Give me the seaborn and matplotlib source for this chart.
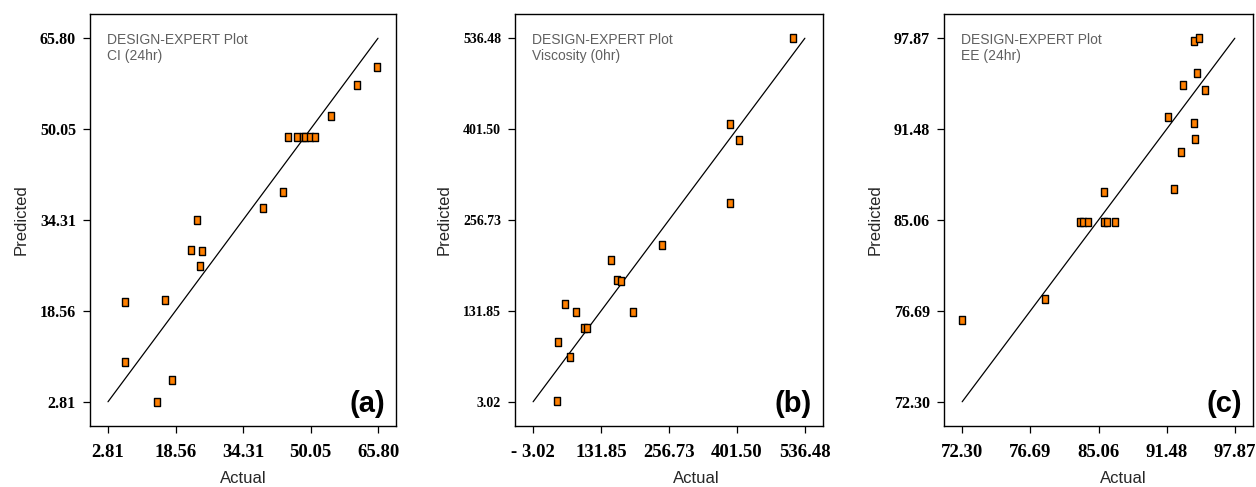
import numpy as np
import pandas as pd
import matplotlib
matplotlib.use("Agg")
import matplotlib.pyplot as plt
import seaborn as sns

# (a) CI (24hr)
ci_actual = [6.84, 6.84, 14.14, 16.0, 17.63, 22.28, 23.6, 24.22, 24.84, 38.88, 43.62,
             44.86, 46.8, 48.35, 48.81, 49.9, 51.14, 54.87, 60.92, 65.65]
ci_pred = [20.01, 9.64, 2.81, 20.41, 6.52, 29.1, 34.25, 26.32, 28.87, 36.34, 39.12,
           48.61, 48.61, 48.61, 48.61, 48.61, 48.61, 52.38, 57.7, 60.89]
ci_range = [2.81, 65.80]
ci_xticks = ["2.81", "18.56", "34.31", "50.05", "65.80"]
ci_yticks = ["2.81", "18.56", "34.31", "50.05", "65.80"]

# (b) Viscosity (0hr)
visc_actual = [49.86, 51.16, 75.23, 65.47, 87.59, 103.2, 108.4, 155.9, 167.6, 175.4,
               198.8, 256.7, 389.4, 389.4, 406.3, 512.4]
visc_pred = [3.5, 91.36, 69.03, 146.21, 134.56, 111.26, 111.26, 211.7, 182.1, 180.7,
             134.56, 233.1, 294.7, 410.7, 387.5, 537.5]
visc_range = [3.02, 536.48]
visc_xticks = ["- 3.02", "131.85", "256.73", "401.50", "536.48"]
visc_yticks = ["3.02", "131.85", "256.73", "401.50", "536.48"]

# (c) EE (24hr)
ee_actual = [72.24, 80.04, 83.33, 83.67, 84.1, 85.6, 85.57, 85.91, 86.59, 92.18, 92.8,
             91.59, 93.02, 94.01, 94.11, 94.29, 95.1, 94.08, 94.51]
ee_pred = [78.07, 79.53, 84.91, 84.91, 84.91, 87.07, 84.91, 84.91, 84.91, 87.3, 89.85,
           92.35, 94.6, 91.89, 90.77, 95.41, 94.25, 97.66, 97.91]
ee_range = [72.30, 97.87]
ee_xticks = ["72.30", "76.69", "85.06", "91.48", "97.87"]
ee_yticks = ["72.30", "76.69", "85.06", "91.48", "97.87"]

panels = [
    ("CI (24hr)", "(a)", ci_actual, ci_pred, ci_range, ci_xticks, ci_yticks),
    ("Viscosity (0hr)", "(b)", visc_actual, visc_pred, visc_range, visc_xticks, visc_yticks),
    ("EE (24hr)", "(c)", ee_actual, ee_pred, ee_range, ee_xticks, ee_yticks),
]

sns.set_style("ticks")
plt.rcParams["font.family"] = ["Liberation Sans", "DejaVu Sans"]

# slightly tall rectangle marker like Design-Expert
rect = [(-0.8, -1), (0.8, -1), (0.8, 1), (-0.8, 1), (-0.8, -1)]

fig = plt.figure(figsize=(12.56, 4.87), dpi=100)
boxes = [(90, 306), (515, 308), (944, 309)]
label_x = [0.5, 0.59, 0.58]
ytick_size = [11.5, 10, 11.5]

for i, (name, tag, act, pred, rng, xt, yt) in enumerate(panels):
    left, width = boxes[i]
    ax = fig.add_axes([left / 1256, 61 / 487, width / 1256, 412 / 487])
    df = pd.DataFrame({"Actual": act, "Predicted": pred})
    ax.plot(rng, rng, color="black", lw=0.9, zorder=1)
    sns.scatterplot(data=df, x="Actual", y="Predicted", ax=ax, marker=rect, s=32,
                    color="#ff8000", edgecolor="black", linewidth=1.0, zorder=3)
    pad = (rng[1] - rng[0]) / 15
    ax.set_xlim(rng[0] - pad, rng[1] + pad)
    ax.set_ylim(rng[0] - pad, rng[1] + pad)
    ticks = np.linspace(rng[0], rng[1], 5)
    ax.set_xticks(ticks)
    ax.set_xticklabels(xt, family="Liberation Serif", fontweight="bold", fontsize=13.5)
    ax.set_yticks(ticks)
    ax.set_yticklabels(yt, family="Liberation Serif", fontweight="bold", fontsize=ytick_size[i])
    ax.tick_params(direction="out", length=5, width=0.9, colors="black", pad=5)
    ax.tick_params(axis="x", pad=8)
    for sp in ax.spines.values():
        sp.set_visible(True)
        sp.set_color("black")
        sp.set_linewidth(1.0)
    ax.set_xlabel("Actual", fontsize=12)
    ax.set_ylabel("Predicted", fontsize=12, labelpad=8)
    ax.xaxis.set_label_coords(label_x[i], -0.11)
    ax.text(0.055, 0.955, "DESIGN-EXPERT Plot\n" + name, transform=ax.transAxes,
            ha="left", va="top", fontsize=10, color="#606060", linespacing=1.2)
    ax.text(0.965, 0.02, tag, transform=ax.transAxes, ha="right", va="bottom",
            fontsize=21, fontweight="bold", color="black")

fig.savefig("out.png", dpi=100)
plt.close(fig)
